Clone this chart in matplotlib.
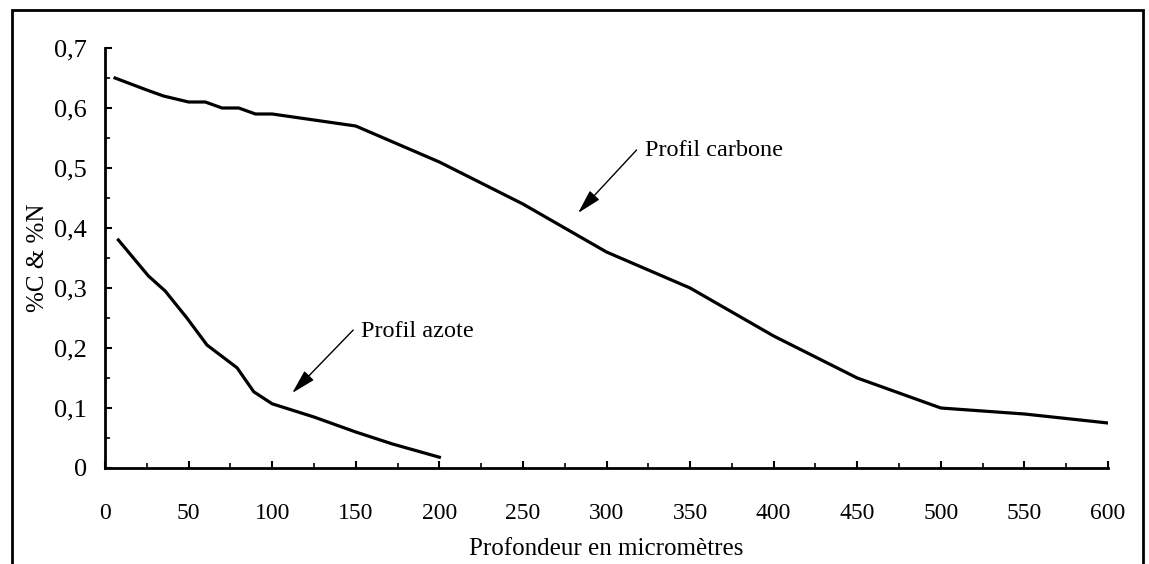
import matplotlib
matplotlib.use("Agg")
import matplotlib.pyplot as plt
from matplotlib.ticker import MultipleLocator, FuncFormatter
from matplotlib.patches import Rectangle

carbon_x = [6, 25, 35, 50, 60, 70, 80, 90, 100, 150, 200, 250, 300, 350, 400, 450, 500, 550, 600]
carbon_y = [0.65, 0.63, 0.62, 0.61, 0.61, 0.60, 0.60, 0.59, 0.59, 0.57, 0.51, 0.44, 0.36, 0.30, 0.22, 0.15, 0.10, 0.09, 0.075]

azote_x = [8, 26, 36, 49, 61, 79, 89, 100, 125, 150, 172, 200]
azote_y = [0.38, 0.32, 0.295, 0.25, 0.205, 0.167, 0.127, 0.107, 0.085, 0.06, 0.04, 0.018]

x_ticks = [0, 50, 100, 150, 200, 250, 300, 350, 400, 450, 500, 550, 600]
y_ticks = [0, 0.1, 0.2, 0.3, 0.4, 0.5, 0.6, 0.7]

plt.rcParams['font.family'] = ['Liberation Serif', 'DejaVu Serif']

fig = plt.figure(figsize=(11.49, 5.64), dpi=100)
ax = fig.add_axes([105/1149, 1-468/564, (1108-105)/1149, (468-48)/564])

ax.plot(carbon_x, carbon_y, color='black', lw=2.3, solid_joinstyle='round')
ax.plot(azote_x, azote_y, color='black', lw=2.3, solid_joinstyle='round')

ax.set_xlim(0, 600)
ax.set_ylim(0, 0.7)
ax.set_xticks(x_ticks)
ax.set_yticks(y_ticks)
ax.xaxis.set_minor_locator(MultipleLocator(25))
ax.yaxis.set_minor_locator(MultipleLocator(0.05))

def yfmt(v, pos):
    if abs(v) < 1e-9:
        return "0"
    return ("%.1f" % v).replace('.', ',')
ax.yaxis.set_major_formatter(FuncFormatter(yfmt))

ax.tick_params(axis='both', which='major', direction='in', length=5, width=1.5, colors='black')
ax.tick_params(axis='both', which='minor', direction='in', length=3.5, width=1.2)
ax.tick_params(axis='x', which='major', pad=25, labelsize=17)
ax.tick_params(axis='y', which='major', pad=13, labelsize=19)

for s in ['top', 'right']:
    ax.spines[s].set_visible(False)
for s in ['left', 'bottom']:
    ax.spines[s].set_linewidth(2)

ax.set_xlabel("Profondeur en micromètres", fontsize=18, labelpad=10)
ax.set_ylabel("%C & %N", fontsize=18, labelpad=4)

arrow_kw = dict(arrowstyle='-|>,head_length=0.75,head_width=0.2', color='black', lw=1.0,
                mutation_scale=20, shrinkA=0, shrinkB=0)

ax.text(323, 0.53, "Profil carbone", fontsize=17.5, va='center', ha='left')
ax.annotate("", xy=(283, 0.425), xytext=(318, 0.53), arrowprops=arrow_kw)

ax.text(153, 0.227, "Profil azote", fontsize=17.5, va='center', ha='left')
ax.annotate("", xy=(112, 0.125), xytext=(148.5, 0.23), arrowprops=arrow_kw)

fig.patches.append(Rectangle((12/1149, -0.1), (1143-12)/1149, 1.1 - 10/564,
                             transform=fig.transFigure, fill=False, edgecolor='black', lw=2))

fig.savefig("out.png", dpi=100)
